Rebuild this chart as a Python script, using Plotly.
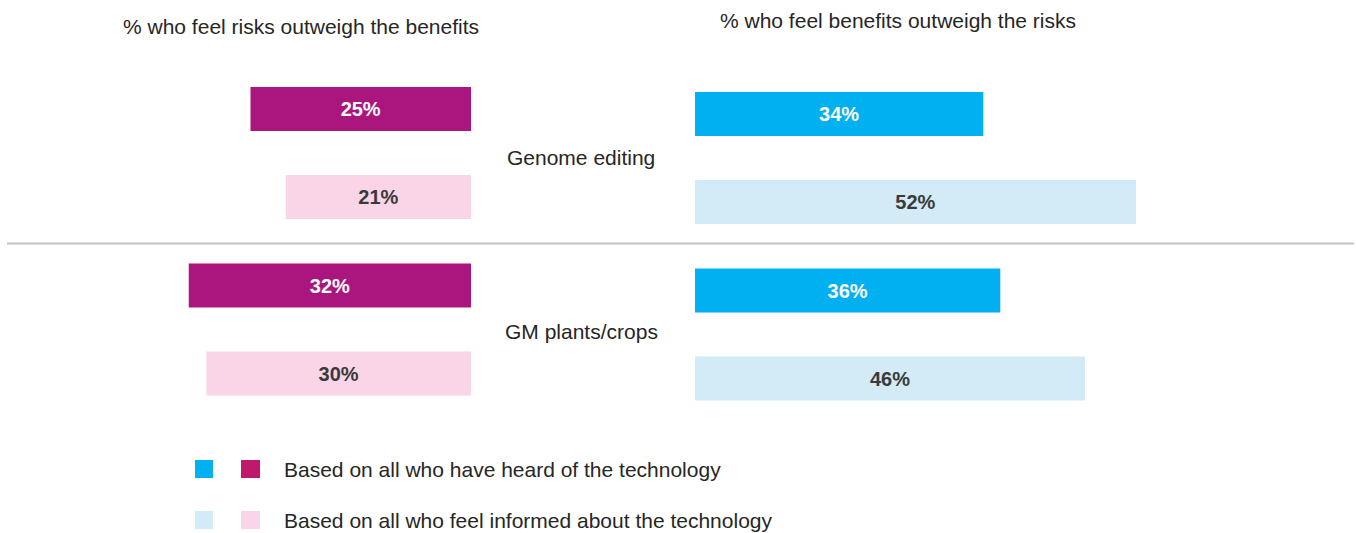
import plotly.graph_objects as go

# ---- data ----
categories = ["Genome editing", "GM plants/crops"]
risks_heard = [25, 32]
risks_informed = [21, 30]
benefits_heard = [34, 36]
benefits_informed = [52, 46]
label_risks = "% who feel risks outweigh the benefits"
label_benefits = "% who feel benefits outweigh the risks"
legend_heard = "Based on all who have heard of the technology"
legend_informed = "Based on all who feel informed about the technology"

# ---- style / layout ----
W, H = 1356, 533
FONT = "Liberation Sans, Arial, sans-serif"
C_MAG = "#AB167E"
C_PINK = "#FAD5E7"
C_CYAN = "#00B0F0"
C_LBLUE = "#D2EBF7"
C_LEG_MAG = "#C0186C"
TXT = "#262626"

left_zero_px = 471
right_zero_px = 695
left_scale = 8.82   # px per %
right_scale = 8.48

group_start = 109
group_step = 176.5
sub_step = 88
right_offset = 5
bar_h = 44

def ypos(g, s, right):
    return group_start + g * group_step + s * sub_step + (right_offset if right else 0)

def px(x):
    return x / W

n = len(categories)
fig = go.Figure()

def add_bars(vals, s, right, color, tcolor):
    ys = [ypos(g, s, right) for g in range(n)]
    fig.add_trace(go.Bar(
        x=vals, y=ys, orientation="h", width=bar_h,
        marker=dict(color=color, line=dict(width=0)),
        text=[f"{v}%" for v in vals], textposition="inside",
        insidetextanchor="middle", constraintext="none",
        textfont=dict(family=FONT, size=20, color=tcolor, weight="bold"),
        xaxis="x2" if right else "x", yaxis="y",
        showlegend=False, hoverinfo="skip",
    ))

add_bars(risks_heard, 0, False, C_MAG, "white")
add_bars(risks_informed, 1, False, C_PINK, "#3A3A3A")
add_bars(benefits_heard, 0, True, C_CYAN, "white")
add_bars(benefits_informed, 1, True, C_LBLUE, "#3A3A3A")

annotations = []
shapes = []

# panel titles
annotations.append(dict(text=label_risks, x=px(301), y=26, xref="paper", yref="y",
                        xanchor="center", yanchor="middle", showarrow=False,
                        font=dict(family=FONT, size=21, color=TXT)))
annotations.append(dict(text=label_benefits, x=px(898), y=20, xref="paper", yref="y",
                        xanchor="center", yanchor="middle", showarrow=False,
                        font=dict(family=FONT, size=21, color=TXT)))

# category labels
for g, c in enumerate(categories):
    annotations.append(dict(text=c, x=px(581), y=ypos(g, 0, False) + 48 - g * 2,
                            xref="paper", yref="y", xanchor="center", yanchor="middle",
                            showarrow=False, font=dict(family=FONT, size=21, color=TXT)))

# divider
shapes.append(dict(type="line", xref="paper", yref="y", x0=px(7), x1=px(1354), y0=243.5, y1=243.5,
                   line=dict(color="#C4C4C4", width=2)))

# legend
leg_rows = [(469, C_CYAN, C_LEG_MAG, legend_heard), (520, C_LBLUE, C_PINK, legend_informed)]
for yc, c1, c2, txt in leg_rows:
    shapes.append(dict(type="rect", xref="paper", yref="y", x0=px(195), x1=px(213),
                       y0=yc - 9, y1=yc + 9, fillcolor=c1, line=dict(width=0)))
    shapes.append(dict(type="rect", xref="paper", yref="y", x0=px(241), x1=px(260),
                       y0=yc - 9, y1=yc + 9, fillcolor=c2, line=dict(width=0)))
    annotations.append(dict(text=txt, x=px(282), y=yc, xref="paper", yref="y",
                            xanchor="left", yanchor="middle", showarrow=False,
                            font=dict(family=FONT, size=21, color=TXT)))

fig.update_layout(
    width=W, height=H,
    margin=dict(l=0, r=0, t=0, b=0),
    paper_bgcolor="white", plot_bgcolor="white",
    barmode="overlay",
    xaxis=dict(domain=[0, left_zero_px / W], range=[left_zero_px / left_scale, 0],
               visible=False, fixedrange=True),
    xaxis2=dict(domain=[right_zero_px / W, 1], range=[0, (W - right_zero_px) / right_scale],
                visible=False, fixedrange=True),
    yaxis=dict(domain=[0, 1], range=[H, 0], visible=False, fixedrange=True),
    annotations=annotations, shapes=shapes,
    showlegend=False,
)

fig.write_html("out.html", config={"displayModeBar": False},
               post_script="document.body.style.margin='0';document.body.style.overflow='hidden';")
